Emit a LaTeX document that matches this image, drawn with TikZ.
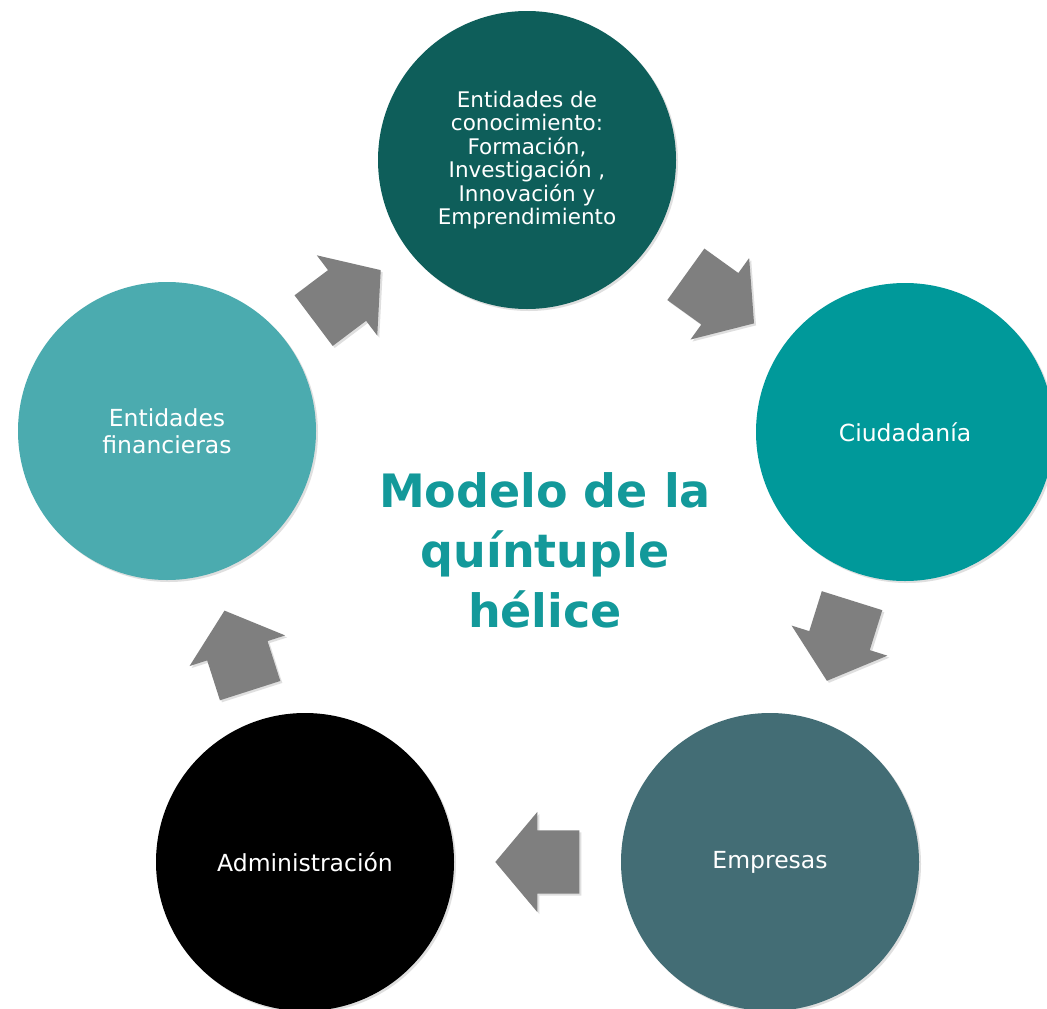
\documentclass[tikz,border=0pt]{standalone}
\usepackage{fontspec}
\setmainfont{DejaVu Sans}
\usepackage{tikz}
\usetikzlibrary{calc,shapes.arrows,shadows}

\definecolor{knowcol}{HTML}{0E5E5A}
\definecolor{citycol}{HTML}{00999A}
\definecolor{firmcol}{HTML}{436D75}
\definecolor{fincol}{HTML}{4BABAF}
\definecolor{titlecol}{HTML}{13999A}
\definecolor{arrowgray}{HTML}{7F7F7F}

\begin{document}
\begin{tikzpicture}[x=1pt,y=-1pt,
    helix/.style={circle, minimum size=298pt, inner sep=0pt, align=center,
      text=white, font=\fontsize{23.5}{27}\selectfont,
      drop shadow={opacity=0.25, shadow xshift=2pt, shadow yshift=-2pt}},
    flow/.style={single arrow, fill=arrowgray, minimum height=84pt,
      minimum width=0pt, inner xsep=0pt, inner ysep=31.5pt,
      single arrow head extend=18.5pt, single arrow tip angle=100,
      drop shadow={opacity=0.25, shadow xshift=2pt, shadow yshift=-2pt}}]
  \useasboundingbox[fill=white] (0,0) rectangle (1047,1009);

  \node [helix, fill=knowcol, font=\fontsize{21.5}{23.5}\selectfont] (kno) at (527,160)
    {Entidades de\\conocimiento:\\Formación,\\Investigación ,\\Innovación y\\Emprendimiento};
  \node [helix, fill=citycol] (ciu) at (905,432) {Ciudadanía};
  \node [helix, fill=firmcol] (emp) at (770,862) {Empresas};
  \node [helix, fill=black] (adm) at (305,862) {Administración};
  \node [helix, fill=fincol] (fin) at (167,431) {Entidades\\financieras};

  \node [anchor=north, inner sep=0pt, align=center, text=titlecol,
    font=\bfseries\fontsize{46}{60}\selectfont] (ttl) at (545,472)
    {Modelo de la\\quíntuple\\hélice};

  % cycle arrows, tail placed half a length before the split point
  \foreach \a/\b/\t in {fin/kno/0.5, kno/ciu/0.51, ciu/emp/0.485, emp/adm/0.5, adm/fin/0.49}
    \path let \p1=($(\b)-(\a)$), \n1={atan2(\y1,\x1)} in
      node [flow, rotate=\n1, anchor=tail] at ($(\a)!\t!(\b)!42pt!(\a)$) {};
\end{tikzpicture}
\end{document}
